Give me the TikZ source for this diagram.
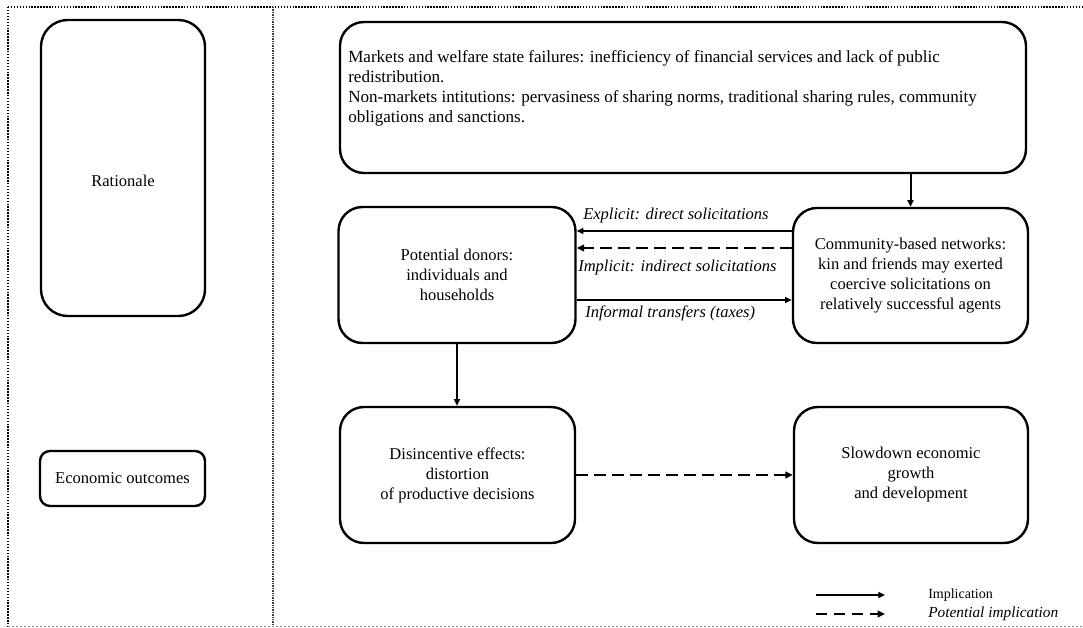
\documentclass[tikz,border=0pt]{standalone}
\usepackage{fontspec}
\setmainfont{Liberation Serif}
\usetikzlibrary{arrows.meta,calc}
\begin{document}
\begin{tikzpicture}[x=0.75pt,y=-0.75pt,
  every node/.style={font=\fontsize{12.4}{15}\selectfont},
  bigbox/.style={draw, line width=1.8pt, rounded corners=18pt, inner sep=0pt, align=center},
  arr/.style={-{Triangle[length=5pt,width=4.5pt]}, line width=1.1pt},
  varr/.style={-{Triangle[length=5pt,width=4.5pt]}, line width=1.5pt},
  darr/.style={-{Triangle[length=5.5pt,width=5pt]}, line width=2.2pt, dash pattern=on 8.5pt off 5pt},
  lbl/.style={font=\fontsize{12.4}{15}\selectfont\itshape, inner sep=0pt, anchor=west},
  legtext/.style={font=\fontsize{10.5}{12}\selectfont, inner sep=0pt, anchor=west}]

\useasboundingbox (0,0) rectangle (1083,628);

% frame
\draw[line width=1.2pt, dash pattern=on 1.1pt off 1.1pt] (8,7) -- (1083,7);
\draw[line width=1.6pt, dash pattern=on 1.1pt off 1.1pt] (8,7) -- (8,626);
\draw[line width=0.9pt, black!75, dash pattern=on 1pt off 0.8pt] (273,7) -- (273,626);
\draw[line width=0.6pt, black!45, dash pattern=on 1.5pt off 1.5pt] (8,626) -- (1083,626);

% left column
\node[bigbox, minimum width=123pt, minimum height=222pt, rounded corners=20pt] (rat) at (123,168) {};
\node (rattext) at (123,181) {Rationale};
\node[bigbox, minimum width=123.75pt, minimum height=41.25pt, rounded corners=7.5pt] (econ) at (122.5,478.5) {Economic outcomes};

% main boxes
\node[bigbox, minimum width=514.5pt, minimum height=113.25pt] (top) at (683,97.5) {};
\node[anchor=west, align=left, inner sep=0pt, font=\fontsize{12.8}{15}\selectfont] (toptext) at (348,88.5) {Markets and welfare state failures: inefficiency of financial services and lack of public\\redistribution.\\Non-markets intitutions: pervasiness of sharing norms, traditional sharing rules, community\\obligations and sanctions.};

\node[bigbox, minimum width=176.25pt, minimum height=101.25pt] (comm) at (910.5,275.5) {Community-based networks:\\kin and friends may exerted\\coercive solicitations on\\relatively successful agents};
\node[bigbox, minimum width=177.75pt, minimum height=102pt] (donors) at (457,275) {Potential donors:\\individuals and\\households};
\node[bigbox, minimum width=176.25pt, minimum height=102pt] (dis) at (457.5,475) {Disincentive effects:\\distortion\\of productive decisions};
\node[bigbox, minimum width=175.5pt, minimum height=102pt] (slow) at (911,475) {Slowdown economic\\growth\\and development};

% connectors
\draw[varr] (top.south -| comm.north) -- (comm.north);
\coordinate (ya) at (0,231);
\coordinate (yb) at (0,248);
\coordinate (yc) at (0,300);
\draw[arr] (comm.west |- ya) -- (donors.east |- ya);
\draw[darr] (comm.west |- yb) -- (donors.east |- yb);
\draw[arr] (donors.east |- yc) -- (comm.west |- yc);
\node[lbl] (lexp) at (583,216) {Explicit: direct solicitations};
\node[lbl] (limp) at (578,268) {Implicit: indirect solicitations};
\node[lbl] (linf) at (585,313) {Informal transfers (taxes)};

\draw[varr] (donors.south) -- (donors.south |- dis.north);
\draw[darr] (dis.east) -- (slow.west);

% legend
\coordinate (la) at (816,595);
\coordinate (lb) at (885,595);
\coordinate (lc) at (816,614);
\coordinate (ld) at (885,614);
\draw[arr] (la) -- (lb);
\draw[darr] (lc) -- (ld);
\node[legtext] (leg1) at (928,595) {Implication};
\node[legtext, font=\fontsize{11.5}{14}\selectfont\itshape] (leg2) at (928,614) {Potential implication};
\end{tikzpicture}
\end{document}
